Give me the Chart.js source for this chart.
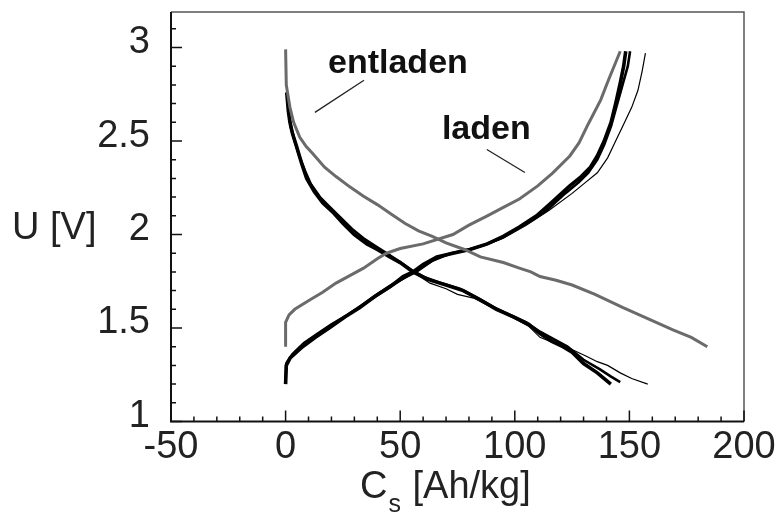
<!DOCTYPE html>
<html>
<head>
<meta charset="utf-8">
<script src="https://cdn.jsdelivr.net/npm/chart.js@4/dist/chart.umd.min.js"></script>
<style>
  body { margin: 0; background: #fff; }
  #wrap { width: 779px; height: 520px; position: relative; }
</style>
</head>
<body>
<div id="wrap"><canvas id="chart"></canvas></div>
<script>
// grey curves (first cycle)
const greyDisC = [0, 0.3, 1.9, 3.5, 6.2, 9, 12, 17, 22, 28, 34, 40, 46, 52, 58, 64, 70, 78, 85, 95, 102, 107, 111, 118, 125, 135, 147, 158, 169, 177, 184]
const greyDisU = [2.99, 2.80, 2.68, 2.60, 2.52, 2.47, 2.43, 2.36, 2.31, 2.255, 2.205, 2.16, 2.11, 2.06, 2.02, 1.99, 1.955, 1.92, 1.88, 1.85, 1.82, 1.80, 1.775, 1.755, 1.73, 1.68, 1.61, 1.55, 1.49, 1.45, 1.40]
const greyChgC = [0, 0, 1.5, 4, 10.5, 16, 22, 28, 34, 40, 44, 50, 60, 73, 80, 88, 95, 102, 110, 116.6, 124, 128, 132, 137.5, 141, 144, 146]
const greyChgU = [1.40, 1.53, 1.57, 1.60, 1.65, 1.69, 1.74, 1.78, 1.82, 1.87, 1.90, 1.925, 1.95, 2.00, 2.05, 2.10, 2.145, 2.19, 2.26, 2.33, 2.42, 2.49, 2.59, 2.72, 2.83, 2.92, 2.98]

// black curves (following cycles)
const chgAC = [0, 0.3, 2, 7.4, 13, 19, 26, 32.4, 39, 45.5, 51.3, 55.6, 60, 66, 73, 80.4, 88, 95, 102, 109.5, 116, 124, 129, 133, 136, 139, 142, 144, 146, 147.5, 148.4]
const chgAU = [1.20, 1.30, 1.34, 1.40, 1.45, 1.50, 1.56, 1.61, 1.67, 1.72, 1.775, 1.80, 1.84, 1.88, 1.90, 1.92, 1.95, 1.99, 2.04, 2.10, 2.17, 2.26, 2.31, 2.36, 2.42, 2.50, 2.60, 2.70, 2.81, 2.90, 2.98]
const chgBC = [0, 0.3, 3, 8, 14, 20, 27, 33, 40, 46, 52, 57, 64, 72, 80, 87, 94, 101, 108, 114, 122, 128, 132, 136, 139, 142, 144.5, 147, 149.3, 150.3]
const chgBU = [1.22, 1.31, 1.36, 1.42, 1.47, 1.52, 1.57, 1.62, 1.68, 1.73, 1.77, 1.80, 1.86, 1.90, 1.92, 1.945, 1.98, 2.03, 2.08, 2.13, 2.22, 2.28, 2.33, 2.40, 2.48, 2.58, 2.69, 2.80, 2.90, 2.98]
const chgThinC = [0, 0.4, 5, 12, 20, 30, 40, 50, 58, 66, 75, 85, 95, 105, 115, 125, 131, 136, 140.5, 144, 147.5, 151, 153.7, 155.5, 157]
const chgThinU = [1.21, 1.32, 1.38, 1.45, 1.51, 1.59, 1.67, 1.75, 1.81, 1.87, 1.905, 1.935, 1.98, 2.05, 2.13, 2.22, 2.28, 2.33, 2.41, 2.50, 2.59, 2.68, 2.77, 2.87, 2.97]

const disAC = [0.5, 1.2, 1.9, 3, 4.8, 7, 9.2, 12.5, 16.2, 20.6, 25, 30, 35.5, 40, 45.5, 50, 55.6, 62, 70, 77.5, 85, 92, 99.4, 106, 111, 116, 121, 125, 130, 136, 141.9]
const disAU = [2.76, 2.66, 2.60, 2.54, 2.47, 2.38, 2.30, 2.23, 2.17, 2.12, 2.06, 2.00, 1.95, 1.92, 1.88, 1.85, 1.80, 1.76, 1.73, 1.70, 1.65, 1.60, 1.56, 1.52, 1.47, 1.43, 1.40, 1.37, 1.31, 1.26, 1.20]
const disBC = [0.8, 1.5, 2.5, 4, 6, 8.5, 11, 15, 19, 24, 29, 34, 39, 44, 49, 55, 61, 68, 76, 84, 91, 98, 105, 111, 117, 123, 130, 137, 142, 146]
const disBU = [2.72, 2.64, 2.57, 2.50, 2.42, 2.34, 2.27, 2.20, 2.15, 2.09, 2.03, 1.98, 1.94, 1.90, 1.86, 1.81, 1.77, 1.74, 1.71, 1.66, 1.61, 1.57, 1.53, 1.48, 1.44, 1.40, 1.33, 1.28, 1.24, 1.21]
const disThinC = [0.9, 2, 5, 9.5, 16, 25, 35.5, 45.5, 55.6, 63, 70, 75, 82, 90, 100, 106, 111, 117, 124, 131, 136, 140.5, 146, 151, 158]
const disThinU = [2.68, 2.57, 2.45, 2.30, 2.18, 2.07, 1.96, 1.89, 1.80, 1.74, 1.71, 1.68, 1.66, 1.61, 1.55, 1.51, 1.45, 1.42, 1.39, 1.35, 1.32, 1.30, 1.26, 1.23, 1.20]

const xTicks = [-50, 0, 50, 100, 150, 200]
const yTicks = [1, 1.5, 2, 2.5, 3]

// text labels placed in data units
const notes = [
  { text: 'entladen', x: 18.5, y: 2.862, from: [12.8, 2.653], to: [34.2, 2.825] },
  { text: 'laden', x: 68.2, y: 2.509, from: [87.8, 2.455], to: [104.4, 2.332] }
]

const FONT = '"Liberation Sans", Arial, sans-serif'

toPoints = (xs, ys) => xs.map((x, i) => ({ x: x, y: ys[i] }))

function line(xs, ys, color, width) {
  return {
    data: toPoints(xs, ys),
    showLine: true,
    borderColor: color,
    borderWidth: width,
    pointRadius: 0,
    tension: 0,
    fill: false
  }
}

const decor = {
  id: 'decor',
  afterDraw(chart) {
    const ctx = chart.ctx
    const a = chart.chartArea
    const xs = chart.scales.x
    const ys = chart.scales.y
    ctx.save()
    // frame
    ctx.strokeStyle = '#555'
    ctx.lineWidth = 1.5
    ctx.beginPath()
    ctx.moveTo(a.left, a.top); ctx.lineTo(a.right, a.top); ctx.lineTo(a.right, a.bottom)
    ctx.stroke()
    ctx.strokeStyle = '#111'
    ctx.lineWidth = 2
    ctx.beginPath()
    ctx.moveTo(a.left, a.top); ctx.lineTo(a.left, a.bottom); ctx.lineTo(a.right, a.bottom)
    ctx.stroke()
    // inward ticks
    ctx.lineWidth = 1.5
    ctx.beginPath()
    for (let v = -50; v <= 200; v += 10) {
      const px = xs.getPixelForValue(v)
      const len = v % 50 === 0 ? 11 : 5
      ctx.moveTo(px, a.bottom); ctx.lineTo(px, a.bottom - len)
    }
    for (let i = 10; i <= 31; i++) {
      const py = ys.getPixelForValue(i / 10)
      const len = i % 5 === 0 ? 11 : 5
      ctx.moveTo(a.left, py); ctx.lineTo(a.left + len, py)
    }
    ctx.stroke()
    // axis titles
    ctx.fillStyle = '#222'
    ctx.textBaseline = 'middle'
    ctx.textAlign = 'left'
    ctx.font = '38px ' + FONT
    ctx.fillText('U [V]', 12, ys.getPixelForValue(2) - 6)
    const cx = 360, cy = 488
    ctx.fillText('C', cx, cy)
    const cw = ctx.measureText('C').width
    ctx.font = '25px ' + FONT
    ctx.fillText('s', cx + cw + 1, cy + 17)
    const sw = ctx.measureText('s').width
    ctx.font = '38px ' + FONT
    ctx.fillText(' [Ah/kg]', cx + cw + sw + 2, cy)
    // annotations
    ctx.font = 'bold 34px ' + FONT
    ctx.textBaseline = 'alphabetic'
    ctx.fillStyle = '#111'
    ctx.strokeStyle = '#222'
    ctx.lineWidth = 1.3
    notes.forEach(n => {
      ctx.fillText(n.text, xs.getPixelForValue(n.x), ys.getPixelForValue(n.y))
      ctx.beginPath()
      ctx.moveTo(xs.getPixelForValue(n.from[0]), ys.getPixelForValue(n.from[1]))
      ctx.lineTo(xs.getPixelForValue(n.to[0]), ys.getPixelForValue(n.to[1]))
      ctx.stroke()
    })
    ctx.restore()
  }
}

const GREY = '#6b6b6b'
const BLACK = '#000'

new Chart(document.getElementById('chart'), {
  type: 'scatter',
  data: {
    datasets: [
      line(greyDisC, greyDisU, GREY, 3),
      line(greyChgC, greyChgU, GREY, 3),
      line(chgThinC, chgThinU, BLACK, 1.2),
      line(disThinC, disThinU, BLACK, 1.2),
      line(chgBC, chgBU, BLACK, 2.6),
      line(disBC, disBU, BLACK, 2.6),
      line(chgAC, chgAU, BLACK, 3.6),
      line(disAC, disAU, BLACK, 3.6)
    ]
  },
  options: {
    responsive: true,
    maintainAspectRatio: false,
    animation: false,
    layout: { padding: { top: 12, right: 35, left: 0, bottom: 0 } },
    plugins: { legend: { display: false }, tooltip: { enabled: false } },
    scales: {
      x: {
        type: 'linear',
        min: -50,
        max: 200,
        afterBuildTicks: s => { s.ticks = xTicks.map(v => ({ value: v })) },
        afterFit: s => { s.height = 98.5; s.paddingLeft = 0; s.paddingRight = 0 },
        grid: { display: false, drawTicks: false },
        border: { display: false },
        ticks: { padding: 3, color: '#222', font: { family: FONT, size: 38 }, callback: v => String(v) }
      },
      y: {
        type: 'linear',
        min: 1,
        max: 3.19,
        afterBuildTicks: s => { s.ticks = yTicks.map(v => ({ value: v })) },
        afterFit: s => { s.width = 171; s.paddingTop = 0; s.paddingBottom = 0 },
        grid: { display: false, drawTicks: false },
        border: { display: false },
        ticks: { padding: 21, labelOffset: -5, color: '#222', font: { family: FONT, size: 38 }, callback: v => String(v) }
      }
    }
  },
  plugins: [decor]
})
</script>
</body>
</html>
